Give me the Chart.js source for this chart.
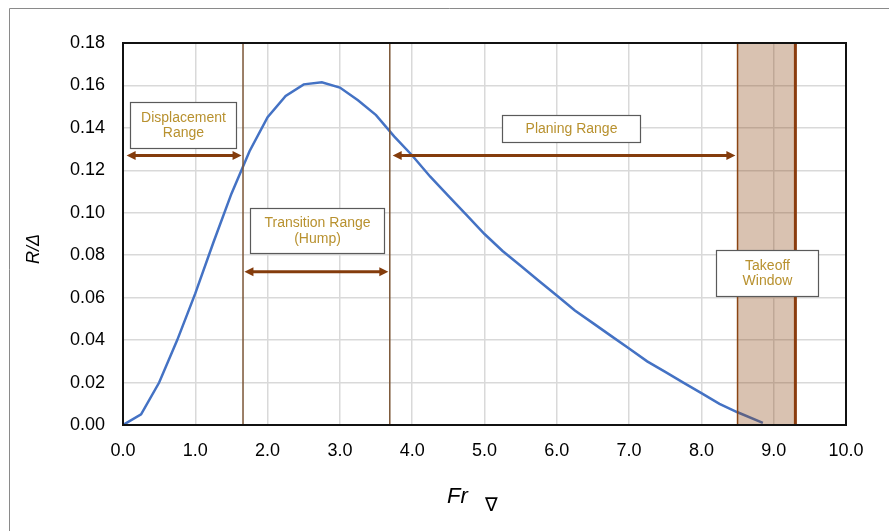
<!DOCTYPE html>
<html>
<head>
<meta charset="utf-8">
<script src="https://cdn.jsdelivr.net/npm/chart.js@4"></script>
<style>
  html, body { margin: 0; padding: 0; background: #fff; }
  #wrap { width: 889px; height: 531px; position: relative; }
</style>
</head>
<body>
<div id="wrap"><canvas id="resistanceChart"></canvas></div>
<script>
// Froude number (volumetric) and resistance-to-weight ratio
const froude = [0, 0.25, 0.5, 0.75, 1.0, 1.25, 1.5, 1.75, 2.0, 2.25, 2.5, 2.75, 3.0, 3.25, 3.5,
    3.75, 4.0, 4.25, 4.5, 4.75, 5.0, 5.25, 5.5, 5.75, 6.0, 6.25, 6.5, 6.75, 7.0, 7.25, 7.5,
    7.75, 8.0, 8.25, 8.5, 8.85];
const resistance = [0, 0.005, 0.02, 0.04, 0.062, 0.086, 0.109, 0.129, 0.145, 0.155, 0.1605, 0.1615, 0.159, 0.153, 0.146,
    0.136, 0.127, 0.117, 0.108, 0.099, 0.090, 0.082, 0.075, 0.068, 0.061, 0.054, 0.048, 0.042, 0.036, 0.030, 0.025,
    0.020, 0.015, 0.010, 0.006, 0.001];

const yTicks = [0, 0.02, 0.04, 0.06, 0.08, 0.10, 0.12, 0.14, 0.16, 0.18];
const xTicks = [0, 1, 2, 3, 4, 5, 6, 7, 8, 9, 10];

// regime boundaries on the Fr axis
const rangeBounds = [1.66, 3.69];
const takeoffWindow = [8.5, 9.3];

// double arrows: [from, to, level]
const arrows = [
    [0.05, 1.64, 0.127],
    [1.68, 3.67, 0.0722],
    [3.73, 8.47, 0.127]
];

// label boxes: text lines and box extents in data units
const labels = [
    { lines: ['Displacement', 'Range'], x0: 0.1, x1: 1.56, y0: 0.1307, y1: 0.1524 },
    { lines: ['Transition Range', '(Hump)'], x0: 1.757, x1: 3.61, y0: 0.0809, y1: 0.1021 },
    { lines: ['Planing Range'], x0: 5.24, x1: 7.15, y0: 0.1335, y1: 0.1461 },
    { lines: ['Takeoff', 'Window'], x0: 8.2, x1: 9.61, y0: 0.0609, y1: 0.0825 }
];

const BROWN = '#843c0c';
const GOLD = '#b8912f';

const regimes = {
    id: 'regimes',
    beforeDraw(chart) {
        const ctx = chart.ctx;
        ctx.save();
        ctx.fillStyle = '#fff';
        ctx.fillRect(0, 0, chart.width, chart.height);
        ctx.strokeStyle = '#8a8a8a';
        ctx.lineWidth = 1;
        ctx.beginPath();
        ctx.moveTo(9.5, chart.height);
        ctx.lineTo(9.5, 8.5);
        ctx.lineTo(chart.width, 8.5);
        ctx.stroke();
        ctx.restore();
    },
    afterDatasetsDraw(chart) {
        const { ctx, chartArea: a, scales: { x, y } } = chart;
        ctx.save();

        // takeoff window
        const w0 = x.getPixelForValue(takeoffWindow[0]);
        const w1 = x.getPixelForValue(takeoffWindow[1]);
        ctx.fillStyle = 'rgba(139, 69, 19, 0.33)';
        ctx.fillRect(w0, a.top, w1 - w0, a.bottom - a.top);
        ctx.strokeStyle = '#8b4513';
        ctx.lineWidth = 1.5;
        ctx.beginPath();
        ctx.moveTo(w0, a.top); ctx.lineTo(w0, a.bottom);
        ctx.stroke();
        ctx.strokeStyle = '#8a3c0e';
        ctx.lineWidth = 3;
        ctx.beginPath();
        ctx.moveTo(w1, a.top); ctx.lineTo(w1, a.bottom);
        ctx.stroke();

        // regime boundaries
        ctx.strokeStyle = '#7b5536';
        ctx.lineWidth = 1.5;
        rangeBounds.forEach(v => {
            const px = x.getPixelForValue(v);
            ctx.beginPath();
            ctx.moveTo(px, a.top); ctx.lineTo(px, a.bottom);
            ctx.stroke();
        });

        // double-headed arrows
        ctx.strokeStyle = BROWN;
        ctx.fillStyle = BROWN;
        ctx.lineWidth = 3;
        arrows.forEach(([f, t, lv]) => {
            const p0 = x.getPixelForValue(f);
            const p1 = x.getPixelForValue(t);
            const py = y.getPixelForValue(lv);
            const head = 9;
            ctx.beginPath();
            ctx.moveTo(p0 + head - 1, py); ctx.lineTo(p1 - head + 1, py);
            ctx.stroke();
            ctx.beginPath();
            ctx.moveTo(p0, py); ctx.lineTo(p0 + head, py - 4.5); ctx.lineTo(p0 + head, py + 4.5);
            ctx.closePath(); ctx.fill();
            ctx.beginPath();
            ctx.moveTo(p1, py); ctx.lineTo(p1 - head, py - 4.5); ctx.lineTo(p1 - head, py + 4.5);
            ctx.closePath(); ctx.fill();
        });

        // label boxes
        ctx.font = '14px "Liberation Sans", Arial, sans-serif';
        ctx.textAlign = 'center';
        ctx.textBaseline = 'middle';
        labels.forEach(b => {
            const bx0 = Math.round(x.getPixelForValue(b.x0)) + 0.5;
            const bx1 = Math.round(x.getPixelForValue(b.x1)) + 0.5;
            const by0 = Math.round(y.getPixelForValue(b.y1)) + 0.5;
            const by1 = Math.round(y.getPixelForValue(b.y0)) + 0.5;
            ctx.fillStyle = '#fff';
            ctx.fillRect(bx0, by0, bx1 - bx0, by1 - by0);
            ctx.strokeStyle = '#5a5a5a';
            ctx.lineWidth = 1.2;
            ctx.strokeRect(bx0, by0, bx1 - bx0, by1 - by0);
            ctx.fillStyle = GOLD;
            const cx = (bx0 + bx1) / 2;
            const cy = (by0 + by1) / 2;
            const lh = 15.5;
            b.lines.forEach((s, i) => {
                ctx.fillText(s, cx, cy + (i - (b.lines.length - 1) / 2) * lh);
            });
        });

        // plot frame
        ctx.strokeStyle = '#111';
        ctx.lineWidth = 2;
        ctx.strokeRect(a.left, a.top, a.right - a.left, a.bottom - a.top);

        // axis titles
        ctx.fillStyle = '#000';
        ctx.save();
        ctx.translate(34, 249);
        ctx.rotate(-Math.PI / 2);
        ctx.font = 'italic 18px "Liberation Sans", Arial, sans-serif';
        ctx.textAlign = 'center';
        ctx.textBaseline = 'middle';
        ctx.fillText('R/\u0394', 0, 0);
        ctx.restore();

        ctx.textAlign = 'left';
        ctx.textBaseline = 'alphabetic';
        ctx.font = 'italic 22px "Liberation Sans", Arial, sans-serif';
        ctx.fillText('Fr', 447, 503);
        ctx.font = '19px "DejaVu Sans", sans-serif';
        ctx.fillText('\u2207', 485, 511);

        ctx.restore();
    }
};

const tickFont = { family: '"Liberation Sans", Arial, sans-serif', size: 18 };

new Chart(document.getElementById('resistanceChart'), {
    type: 'line',
    data: {
        datasets: [{
            label: 'R/\u0394',
            data: froude.map((f, i) => ({ x: f, y: resistance[i] })),
            borderColor: '#4472c4',
            borderWidth: 2.5,
            pointRadius: 0,
            tension: 0,
            fill: false
        }]
    },
    options: {
        responsive: true,
        maintainAspectRatio: false,
        animation: false,
        layout: { padding: { top: 43, right: 43, left: 0, bottom: 0 } },
        plugins: {
            legend: { display: false },
            tooltip: { enabled: false }
        },
        scales: {
            x: {
                type: 'linear',
                min: 0,
                max: 10,
                afterBuildTicks: s => { s.ticks = xTicks.map(v => ({ value: v })); },
                afterFit: s => { s.height = 106; },
                ticks: {
                    color: '#000',
                    font: tickFont,
                    padding: 15,
                    maxRotation: 0,
                    callback: v => Number(v).toFixed(1)
                },
                grid: { color: '#d9d9d9', lineWidth: 1.5, drawTicks: false },
                border: { display: false }
            },
            y: {
                min: 0,
                max: 0.18,
                afterBuildTicks: s => { s.ticks = yTicks.map(v => ({ value: v })); },
                afterFit: s => { s.width = 123; },
                ticks: {
                    color: '#000',
                    font: tickFont,
                    padding: 18,
                    callback: v => Number(v).toFixed(2)
                },
                grid: { color: '#d9d9d9', lineWidth: 1.5, drawTicks: false },
                border: { display: false }
            }
        }
    },
    plugins: [regimes]
});
</script>
</body>
</html>
